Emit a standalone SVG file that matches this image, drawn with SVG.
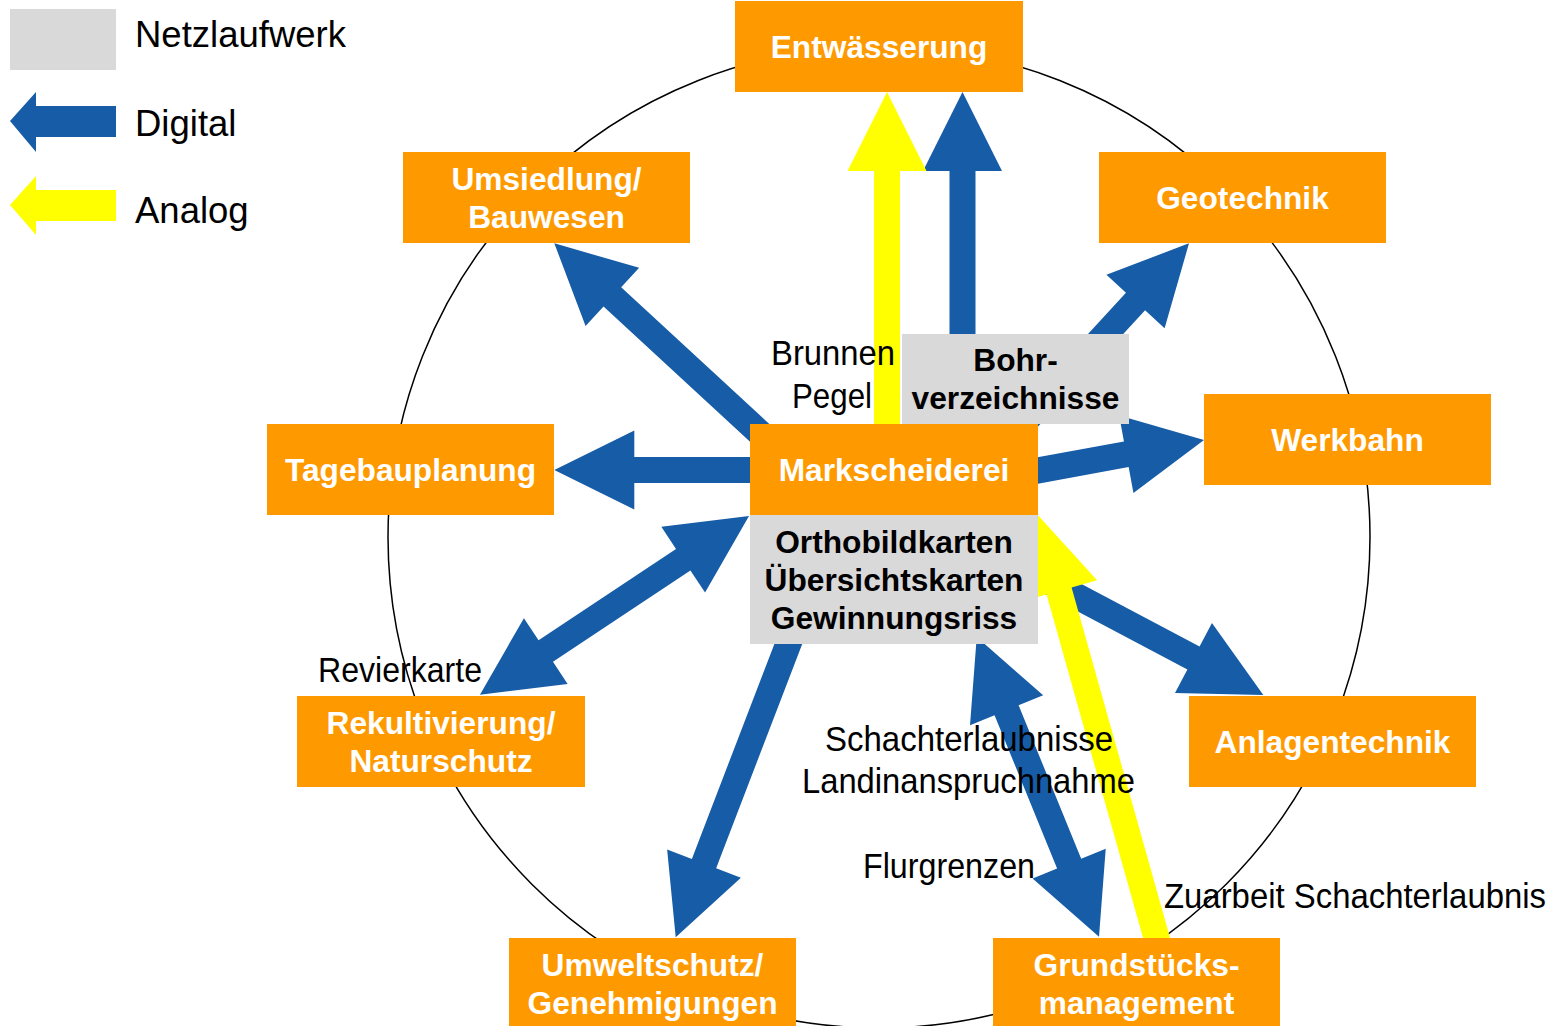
<svg xmlns="http://www.w3.org/2000/svg" width="1552" height="1026" viewBox="0 0 1552 1026">
<style>
.node{fill:#FF9900}
.store{fill:#D9D9D9}
.nt{font-family:"Liberation Sans",Arial,sans-serif;font-weight:bold;font-size:31.7px;fill:#FFFFFF;text-anchor:middle}
.st{font-family:"Liberation Sans",Arial,sans-serif;font-weight:bold;font-size:31.7px;fill:#000000;text-anchor:middle}
.lbl{font-family:"Liberation Sans",Arial,sans-serif;font-size:35px;fill:#000000}
.leg{font-family:"Liberation Sans",Arial,sans-serif;font-size:36.5px;fill:#000000}
.dig{fill:#165CA7}
.ana{fill:#FFFF00}
</style>
<rect width="1552" height="1026" fill="#FFFFFF"/>
<circle cx="879" cy="537" r="491" fill="none" stroke="#000000" stroke-width="1.5"/>

<g id="legend">
<rect class="store" x="10" y="9" width="106" height="61"/>
<path class="dig" d="M10,121 L36,92 L36,106 L116,106 L116,137 L36,137 L36,152 Z"/>
<path class="ana" d="M10,205 L36,176 L36,190 L116,190 L116,221 L36,221 L36,235 Z"/>
<text class="leg" x="135" y="47">Netzlaufwerk</text>
<text class="leg" x="135" y="136">Digital</text>
<text class="leg" x="135" y="223">Analog</text>
</g>

<g id="connectors">
<!-- digital -->
<path class="dig" transform="translate(962.5,92) rotate(-90)" d="M0,0 L-79,-39.5 L-79,-13 L-250,-13 L-250,13 L-79,13 L-79,39.5 Z"/>
<path class="dig" transform="translate(1189,243.3) rotate(-47.4)" d="M0,0 L-79,-39.5 L-79,-13 L-250,-13 L-250,13 L-79,13 L-79,39.5 Z"/>
<path class="dig" transform="translate(1204,440) rotate(-10.4)" d="M0,0 L-79,-39.5 L-79,-13 L-185,-13 L-185,13 L-79,13 L-79,39.5 Z"/>
<path class="dig" transform="translate(554.3,243.3) rotate(-137.3)" d="M0,0 L-79,-39.5 L-79,-13 L-285,-13 L-285,13 L-79,13 L-79,39.5 Z"/>
<path class="dig" transform="translate(554.3,470) rotate(180)" d="M0,0 L-80,-39.5 L-80,-13 L-210,-13 L-210,13 L-80,13 L-80,39.5 Z"/>
<path class="dig" transform="translate(749,516) rotate(-33.6)" d="M0,0 L-79,-39.5 L-79,-13 L-244,-13 L-244,-39.5 L-323,0 L-244,39.5 L-244,13 L-79,13 L-79,39.5 Z"/>
<path class="dig" transform="translate(675.7,937.3) rotate(111)" d="M0,0 L-79,-39.5 L-79,-13 L-320,-13 L-320,13 L-79,13 L-79,39.5 Z"/>
<path class="dig" transform="translate(1099,936.7) rotate(67.8)" d="M0,0 L-79,-39.5 L-79,-13 L-244.6,-13 L-244.6,-39.5 L-323.6,0 L-244.6,39.5 L-244.6,13 L-79,13 L-79,39.5 Z"/>
<path class="dig" transform="translate(1263.3,695) rotate(27.9)" d="M0,0 L-79,-39.5 L-79,-13 L-265,-13 L-265,13 L-79,13 L-79,39.5 Z"/>
<!-- analog -->
<path class="ana" transform="translate(887,92) rotate(-90)" d="M0,0 L-79,-39.5 L-79,-13 L-335,-13 L-335,13 L-79,13 L-79,39.5 Z"/>
<path class="ana" transform="translate(1037.7,515) rotate(-105.7)" d="M0,0 L-79,-39.5 L-79,-13 L-445,-13 L-445,13 L-79,13 L-79,39.5 Z"/>
</g>

<g id="entwaesserung"><rect class="node" x="735" y="1" width="288" height="91"/><text class="nt" x="879" y="58">Entwässerung</text></g>
<g id="umsiedlung"><rect class="node" x="403" y="152" width="287" height="91"/><text class="nt" x="546.5" y="190">Umsiedlung/</text><text class="nt" x="546.5" y="228">Bauwesen</text></g>
<g id="geotechnik"><rect class="node" x="1099" y="152" width="287" height="91"/><text class="nt" x="1242.5" y="209">Geotechnik</text></g>
<g id="tagebauplanung"><rect class="node" x="267" y="424" width="287" height="91"/><text class="nt" x="410.5" y="481">Tagebauplanung</text></g>
<g id="markscheiderei"><rect class="node" x="750" y="424" width="288" height="91"/><text class="nt" x="894" y="481">Markscheiderei</text></g>
<g id="werkbahn"><rect class="node" x="1204" y="394" width="287" height="91"/><text class="nt" x="1347.5" y="451">Werkbahn</text></g>
<g id="bohrverzeichnisse"><rect class="store" x="902" y="334" width="227" height="90"/><text class="st" x="1015.5" y="371">Bohr-</text><text class="st" x="1015.5" y="409">verzeichnisse</text></g>
<g id="karten"><rect class="store" x="750" y="515" width="288" height="129"/><text class="st" x="894" y="553">Orthobildkarten</text><text class="st" x="894" y="591">Übersichtskarten</text><text class="st" x="894" y="629">Gewinnungsriss</text></g>
<g id="rekultivierung"><rect class="node" x="297" y="696" width="288" height="91"/><text class="nt" x="441" y="734">Rekultivierung/</text><text class="nt" x="441" y="772">Naturschutz</text></g>
<g id="anlagentechnik"><rect class="node" x="1189" y="696" width="287" height="91"/><text class="nt" x="1332.5" y="753">Anlagentechnik</text></g>
<g id="umweltschutz"><rect class="node" x="509" y="938" width="287" height="91"/><text class="nt" x="652.5" y="976">Umweltschutz/</text><text class="nt" x="652.5" y="1014">Genehmigungen</text></g>
<g id="grundstuecksmanagement"><rect class="node" x="993" y="938" width="287" height="91"/><text class="nt" x="1136.5" y="976">Grundstücks-</text><text class="nt" x="1136.5" y="1014">management</text></g>

<g id="labels">
<text class="lbl" x="771" y="365" textLength="124" lengthAdjust="spacingAndGlyphs">Brunnen</text>
<text class="lbl" x="792" y="408" textLength="80" lengthAdjust="spacingAndGlyphs">Pegel</text>
<text class="lbl" x="318" y="682" textLength="164" lengthAdjust="spacingAndGlyphs">Revierkarte</text>
<text class="lbl" x="825" y="751" textLength="288" lengthAdjust="spacingAndGlyphs">Schachterlaubnisse</text>
<text class="lbl" x="802" y="793" textLength="333" lengthAdjust="spacingAndGlyphs">Landinanspruchnahme</text>
<text class="lbl" x="863" y="878" textLength="172" lengthAdjust="spacingAndGlyphs">Flurgrenzen</text>
<text class="lbl" x="1164" y="908" textLength="382" lengthAdjust="spacingAndGlyphs">Zuarbeit Schachterlaubnis</text>
</g>
</svg>
